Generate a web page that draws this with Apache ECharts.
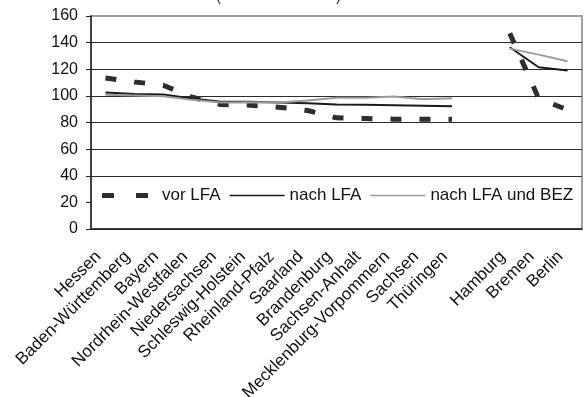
<!DOCTYPE html>
<html>
<head>
<meta charset="utf-8">
<title>LFA</title>
<script src="https://cdn.jsdelivr.net/npm/echarts@6/dist/echarts.min.js"></script>
<style>
  html, body { margin: 0; padding: 0; background: #fff; }
  #main { width: 584px; height: 397px; }
</style>
</head>
<body>
<div id="main"></div>
<script type="text/javascript">
// Laender, mit Luecke vor den Stadtstaaten
var laender = ['Hessen', 'Baden-Württemberg', 'Bayern', 'Nordrhein-Westfalen', 'Niedersachsen',
  'Schleswig-Holstein', 'Rheinland-Pfalz', 'Saarland', 'Brandenburg', 'Sachsen-Anhalt',
  'Mecklenburg-Vorpommern', 'Sachsen', 'Thüringen', '', 'Hamburg', 'Bremen', 'Berlin'];
var vorLFA = [113.5, 110.5, 108, 99, 93.5, 93, 91.5, 89, 83.5, 83, 82.5, 82.5, 82.5, null, 147, 98, 89.5];
var nachLFA = [102.5, 101.5, 101, 98, 95.5, 95.5, 95, 94.5, 93.5, 93.3, 93, 92.6, 92.2, null, 136.5, 121.5, 119];
var nachLFAundBEZ = [100.8, 100.3, 99.8, 97, 95, 95.3, 95, 96.5, 98.6, 98.5, 99.6, 97.4, 98.3, null, 135.5, 131, 126];
var yTicks = [0, 20, 40, 60, 80, 100, 120, 140, 160];

var myChart = echarts.init(document.getElementById('main'));

// Gitterlinien dunkel, oberste grau (Rahmen), bei 20 von der Legende verdeckt
var splitColors = yTicks.map(function (v) {
  if (v == 160) return '#a0a0a0';
  if (v == 20) return 'rgba(0,0,0,0)';
  return '#2b2b2b';
});

// Legendensymbole: zwei Striche (mit unsichtbarem Rand rechts) bzw. eine Linie
var dashIcon = 'path://M0,0 L12,0 L12,5 L0,5 Z M34,0 L46,0 L46,5 L34,5 Z M54.95,2.5 L55,2.5 L55,2.55 L54.95,2.55 Z';
var lineIcon = 'path://M0,0 L55,0 L55,1.6 L0,1.6 Z';

var option = {
  animation: false,
  textStyle: { fontFamily: 'Liberation Sans, Arial, sans-serif' },
  graphic: [
    { type: 'text', left: 216, top: -11, style: { text: '(', fontSize: 15, fill: '#333', fontFamily: 'Liberation Sans' } },
    { type: 'text', left: 336, top: -11, style: { text: ')', fontSize: 15, fill: '#333', fontFamily: 'Liberation Sans' } }
  ],
  grid: {
    left: 91, right: 2, top: 16, bottom: 168,
    containLabel: false, outerBoundsMode: 'none',
    show: true, borderColor: '#a0a0a0', borderWidth: 2, backgroundColor: '#fff'
  },
  legend: {
    left: 98, top: 183,
    padding: [4, 4, 4, 4],
    backgroundColor: '#fff',
    itemWidth: 55, itemHeight: 8, itemGap: 9,
    symbolKeepAspect: true,
    textStyle: { fontSize: 17, color: '#111', fontFamily: 'Liberation Sans' },
    data: [
      { name: 'vor LFA', icon: dashIcon },
      { name: 'nach LFA', icon: lineIcon },
      { name: 'nach LFA und BEZ', icon: lineIcon }
    ]
  },
  xAxis: {
    type: 'category',
    data: laender,
    boundaryGap: true,
    axisLine: { lineStyle: { color: '#222', width: 1.5 } },
    axisTick: { length: 5, lineStyle: { color: '#222' } },
    axisLabel: { interval: 0, rotate: 45, margin: 18, padding: [0, 10, 0, 0], fontSize: 17, color: '#111' },
    splitLine: { show: false }
  },
  yAxis: {
    type: 'value',
    min: 0, max: 160, interval: 20,
    axisLine: { show: true, lineStyle: { color: '#222', width: 1.5 } },
    axisTick: { show: true, length: 5, lineStyle: { color: '#222' } },
    axisLabel: { fontSize: 16, color: '#111', margin: 13 },
    splitLine: { lineStyle: { color: splitColors, width: 1 } }
  },
  series: [
    {
      name: 'vor LFA', type: 'line', data: vorLFA, symbol: 'none',
      itemStyle: { color: '#2e2e2e' },
      lineStyle: { color: '#2e2e2e', width: 5, type: [11, 18], dashOffset: 0 }
    },
    {
      name: 'nach LFA', type: 'line', data: nachLFA, symbol: 'none',
      itemStyle: { color: '#1a1a1a' },
      lineStyle: { color: '#1a1a1a', width: 2 }
    },
    {
      name: 'nach LFA und BEZ', type: 'line', data: nachLFAundBEZ, symbol: 'none',
      itemStyle: { color: '#9a9a9a' },
      lineStyle: { color: '#9a9a9a', width: 2 }
    }
  ]
};
myChart.setOption(option);
</script>
</body>
</html>
